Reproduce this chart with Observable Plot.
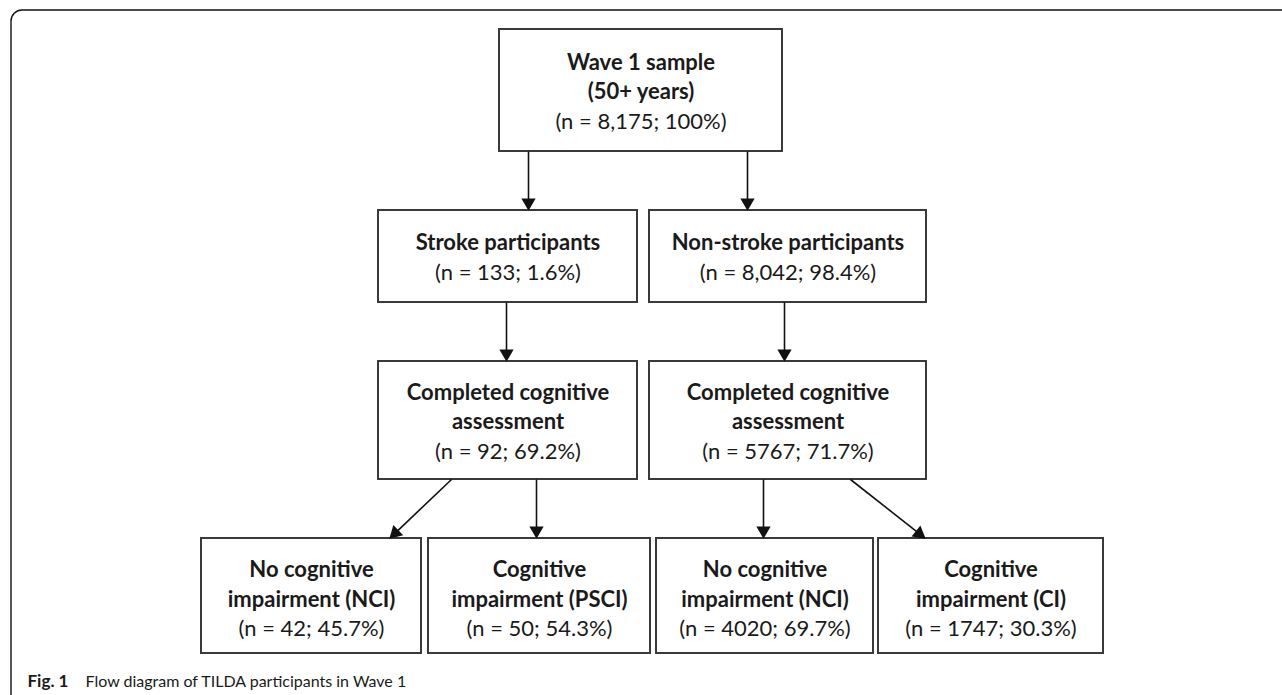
<!DOCTYPE html>
<html>
<head>
<meta charset="utf-8">
<script src="https://cdn.jsdelivr.net/npm/d3@7"></script>
<script src="https://cdn.jsdelivr.net/npm/@observablehq/plot@0.6"></script>
<style>
  html, body { margin: 0; padding: 0; background: #fff; overflow: hidden; }
</style>
</head>
<body>
<div id="chart"></div>
<script>
// ---- content ----
const boxTitles = [
  "Wave 1 sample\n(50+ years)",
  "Stroke participants",
  "Non-stroke participants",
  "Completed cognitive\nassessment",
  "Completed cognitive\nassessment",
  "No cognitive\nimpairment (NCI)",
  "Cognitive\nimpairment (PSCI)",
  "No cognitive\nimpairment (NCI)",
  "Cognitive\nimpairment (CI)"
];
const boxCounts = ["8,175", "133", "8,042", "92", "5767", "42", "50", "4020", "1747"];
const boxPercents = ["100%", "1.6%", "98.4%", "69.2%", "71.7%", "45.7%", "54.3%", "69.7%", "30.3%"];

// ---- diagram layout (page units) ----
const boxLeft   = [499, 378, 649, 378, 649, 201, 428, 656, 878];
const boxRight  = [782, 637, 926, 637, 926, 421, 650, 873, 1103];
const boxTop    = [29, 210, 210, 361, 361, 538, 538, 538, 538];
const boxBottom = [151, 302, 302, 479, 479, 653, 653, 653, 653];

const arrowFromX = [528, 747, 506, 784, 451, 536, 763, 850];
const arrowFromY = [151, 151, 302, 302, 479, 479, 479, 479];
const arrowToX   = [528, 747, 506, 784, 389, 536, 763, 925];
const arrowToY   = [210, 210, 361, 361, 538, 538, 538, 538];

const captionBold = "Fig. 1";
const captionText = "Flow diagram of TILDA participants in Wave 1";

// ---- derived tables ----
const boxes = boxTitles.map((t, i) => ({
  x1: boxLeft[i], x2: boxRight[i], y1: boxTop[i], y2: boxBottom[i]
}));

const lineGap = 29.5;
const lines = [];
boxTitles.forEach((t, i) => {
  const parts = t.split("\n").map(s => ({text: s, bold: true}));
  parts.push({text: `(n = ${boxCounts[i]}; ${boxPercents[i]})`, bold: false});
  const cx = (boxLeft[i] + boxRight[i]) / 2;
  const cy = (boxTop[i] + boxBottom[i]) / 2 + (boxTop[i] > 500 ? 3.5 : 1.5);
  const n = parts.length;
  parts.forEach((p, k) => {
    lines.push({x: cx, y: cy + (k - (n - 1) / 2) * lineGap, text: p.text, bold: p.bold});
  });
});

const headLen = 12;
const arrows = arrowFromX.map((x, i) => {
  const dx = arrowToX[i] - x, dy = arrowToY[i] - arrowFromY[i];
  const L = Math.hypot(dx, dy), ux = dx / L, uy = dy / L;
  return {
    x1: x, y1: arrowFromY[i],
    x2: arrowToX[i] - ux * headLen * 0.9, y2: arrowToY[i] - uy * headLen * 0.9,
    hx: arrowToX[i] - ux * headLen * 2 / 3, hy: arrowToY[i] - uy * headLen * 2 / 3,
    angle: Math.atan2(dx, -dy) * 180 / Math.PI
  };
});

const W = 1282, H = 695;
const chart = Plot.plot({
  width: W,
  height: H,
  margin: 0,
  x: {domain: [0, W], range: [0, W], axis: null},
  y: {domain: [0, H], range: [0, H], axis: null},
  style: {background: "#fff", fontFamily: "Lato, 'Open Sans', sans-serif"},
  marks: [
    // outer panel border (rounded top-left corner, open on right/bottom)
    Plot.rect([{x1: 11, x2: W + 40, y1: 10, y2: H + 40}], {
      x1: "x1", x2: "x2", y1: "y1", y2: "y2",
      fill: "none", stroke: "#111", strokeWidth: 1.4, rx: 11, clip: true
    }),
    Plot.rect(boxes, {
      x1: "x1", x2: "x2", y1: "y1", y2: "y2",
      fill: "#fff", stroke: "#3a3a3a", strokeWidth: 2
    }),
    Plot.link(arrows, {
      x1: "x1", y1: "y1", x2: "x2", y2: "y2",
      stroke: "#111", strokeWidth: 1.6
    }),
    Plot.dot(arrows, {
      x: "hx", y: "hy", symbol: "triangle", r: 5.3,
      fill: "#111", stroke: "none", rotate: "angle"
    }),
    Plot.text(lines.filter(d => d.bold), {
      x: "x", y: "y", text: "text", fontSize: 22, fontWeight: "bold", fill: "#1a1a1a"
    }),
    Plot.text(lines.filter(d => !d.bold), {
      x: "x", y: "y", text: "text", fontSize: 22, fill: "#1a1a1a"
    }),
    Plot.text([captionBold], {
      x: 27, y: 681, text: d => d, textAnchor: "start",
      fontSize: 17, fontWeight: "bold", fill: "#1a1a1a"
    }),
    Plot.text([captionText], {
      x: 85, y: 681, text: d => d, textAnchor: "start",
      fontSize: 16, fill: "#1a1a1a"
    })
  ]
});
document.getElementById("chart").appendChild(chart);
</script>
</body>
</html>
